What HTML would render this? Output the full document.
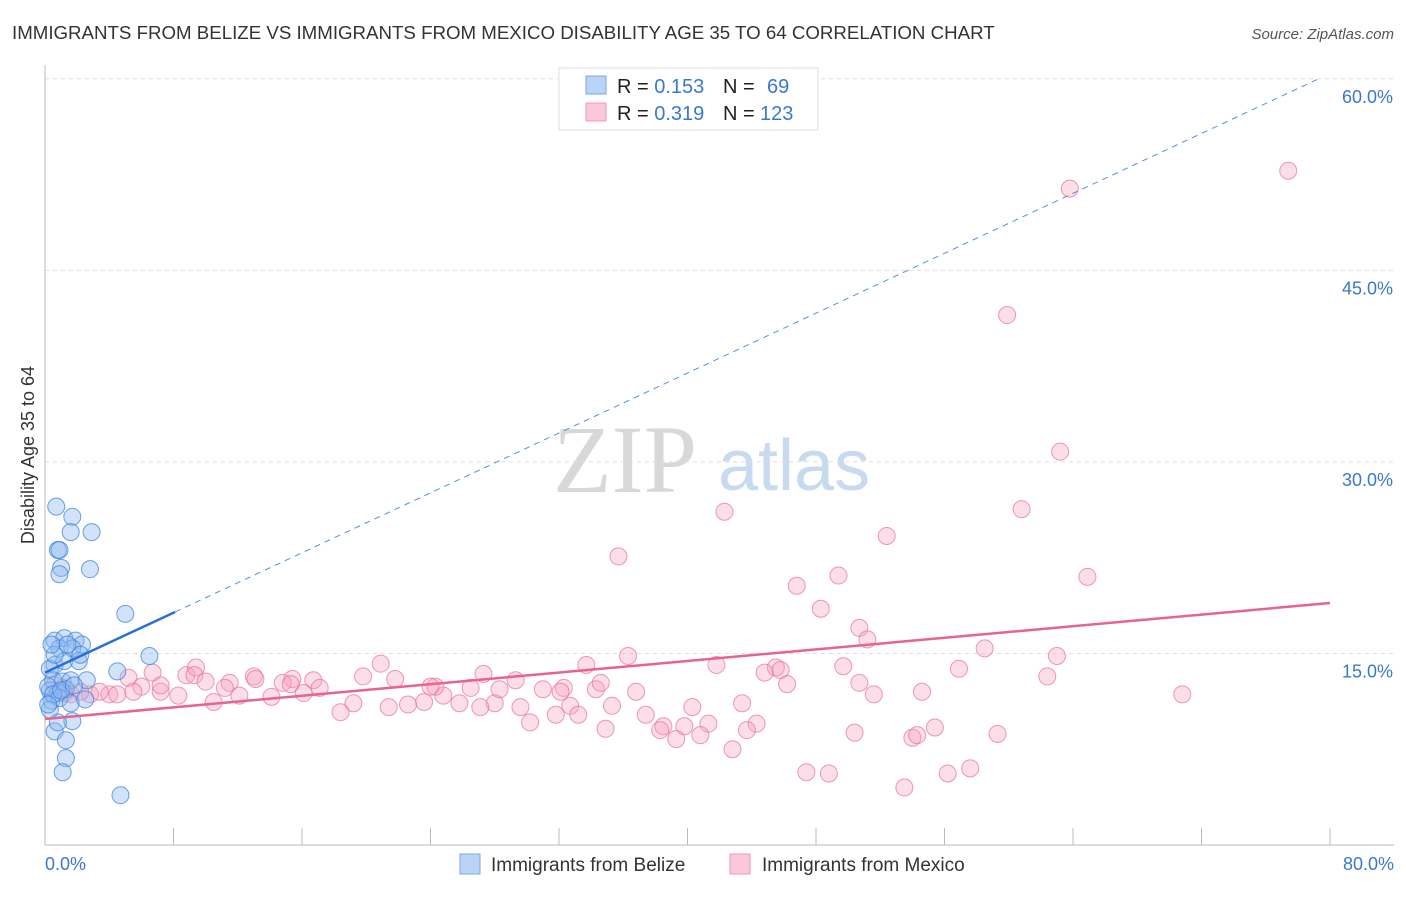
<!DOCTYPE html>
<html><head><meta charset="utf-8"><style>
body{margin:0;background:#fff;font-family:"Liberation Sans",sans-serif}
</style></head><body>
<svg id="c" width="1406" height="892" font-family="Liberation Sans, sans-serif">
<text x="12" y="39" font-size="18.7" fill="#333">IMMIGRANTS FROM BELIZE VS IMMIGRANTS FROM MEXICO DISABILITY AGE 35 TO 64 CORRELATION CHART</text>
<text x="1394" y="39" font-size="15" fill="#555" font-style="italic" text-anchor="end">Source: ZipAtlas.com</text>
<text x="34" y="455" font-size="18" fill="#333" text-anchor="middle" transform="rotate(-90 34 455)">Disability Age 35 to 64</text>
<text x="553" y="492" font-size="96" fill="#d8d8d8" style="font-family:'Liberation Serif',serif">ZIP</text>
<text x="718" y="490" font-size="72" fill="#c8daf0">atlas</text>
<g id="grid"></g><g id="pts"></g><g id="lines"></g>
<g>
<rect x="559" y="68" width="259" height="62" fill="#fff" stroke="#ddd"/>
<rect x="586" y="76" width="20" height="18" fill="#b9d4f5" stroke="#7aa8e6"/>
<rect x="586" y="103" width="20" height="18" fill="#fac8d6" stroke="#ee9ab2"/>
<text x="617" y="93" font-size="20" fill="#222">R = <tspan fill="#3a78d0">0.153</tspan><tspan x="723">N = </tspan><tspan x="767" fill="#3a78d0">69</tspan></text>
<text x="617" y="120" font-size="20" fill="#222">R = <tspan fill="#3a78d0">0.319</tspan><tspan x="723">N = </tspan><tspan x="760" fill="#3a78d0">123</tspan></text>
</g>
<g>
<rect x="460" y="854" width="20" height="20" fill="#b9d4f5" stroke="#7aa8e6"/>
<text x="491" y="871" font-size="19" fill="#333">Immigrants from Belize</text>
<rect x="730" y="854" width="20" height="20" fill="#fac8d6" stroke="#ee9ab2"/>
<text x="762" y="871" font-size="19" fill="#333">Immigrants from Mexico</text>
</g>
</svg>
<script>
const yTicks=[15,30,45,60];
const yTickLabels=["15.0%","30.0%","45.0%","60.0%"];
const xTicks=[0,8,16,24,32,40,48,56,64,72,80];
const xEndLabels=["0.0%","80.0%"];
const belizeX=[0.7,1.7,1.6,2.9,0.8,0.9,1.0,0.9,2.8,5.0,6.5,4.5,0.6,1.2,1.9,2.3,0.9,1.7,0.6,1.2,2.1,0.5,1.1,1.6,2.6,0.3,0.8,1.3,0.4,0.9,1.6,0.6,1.7,0.8,1.3,1.3,1.1,4.7,0.3,0.3,0.6,2.2,1.4,0.4,0.2,0.5,1.0,1.8,2.5,0.2];
const belizeY=[26.5,25.7,24.5,24.5,23.1,23.1,21.7,21.2,21.6,18.1,14.8,13.6,16.0,16.2,16.0,15.7,15.4,15.4,14.1,14.4,14.4,12.9,12.8,12.9,12.9,12.1,11.9,12.2,11.3,11.5,11.1,8.9,9.7,9.6,8.2,6.8,5.7,3.9,10.6,13.8,14.9,14.9,15.7,15.7,12.4,11.8,12.1,12.5,11.4,11.0];
const mexicoX=[77.4,63.8,59.9,63.2,60.8,42.3,52.4,35.7,64.9,46.8,49.4,48.3,50.7,51.2,36.3,58.5,63.0,41.8,33.7,45.5,44.8,45.8,49.7,56.9,62.4,46.2,27.3,20.9,15.4,8.8,9.4,6.7,21.8,19.8,16.7,13.0,11.5,5.2,29.3,31.0,32.3,34.3,36.8,51.6,54.6,70.8,43.4,40.3,35.3,32.7,29.6,28.0,27.1,25.8,24.8,23.6,22.6,21.4,19.2,18.4,16.1,14.1,12.1,10.5,8.3,7.2,6.0,4.0,2.8,1.6,3.4,4.5,5.5,30.2,31.8,33.2,34.9,37.4,38.5,38.3,39.8,41.3,44.3,43.7,40.8,39.3,42.8,50.4,54.0,54.3,55.4,59.3,47.4,48.8,53.5,56.2,57.6,50.7,13.1,9.3,26.5,32.1,24.3,17.1,14.8,11.2,10.0,15.3,7.2,2.2,1.1,0.6,1.2,24.0,28.3,34.6];
const mexicoY=[52.8,51.4,41.5,30.8,26.3,26.1,24.2,22.6,21.0,20.3,21.1,18.5,17.0,16.1,14.8,15.4,14.8,14.1,14.1,13.9,13.5,13.7,14.0,13.8,13.2,12.6,13.4,14.2,13.0,13.3,13.9,13.5,13.0,13.2,12.9,13.2,12.7,13.1,12.9,12.2,12.3,12.2,12.0,11.8,12.0,11.8,11.1,10.8,10.9,10.9,10.8,11.1,10.8,11.1,11.7,11.2,11.0,10.8,11.1,10.4,11.9,11.6,11.7,11.2,11.7,12.0,12.4,11.8,11.8,11.8,12.0,11.8,12.0,9.6,10.2,10.2,9.1,10.2,9.3,9.0,9.3,9.5,9.5,9.0,8.6,8.3,7.5,8.8,8.4,8.6,9.2,8.7,5.7,5.6,4.5,5.6,6.0,12.7,13.0,13.3,12.3,12.0,12.4,12.3,12.7,12.3,12.8,12.6,12.5,12.0,12.3,12.5,11.9,12.4,12.2,12.7];
const belizeTrend=[0,13.5,8.1,18.25,79.4,60.06];
const mexicoTrend=[0,9.87,80,18.95];
const X0=45,X1=1330,YB=845,PY=12.77;
function sx(v){return X0+(X1-X0)*v/80;}
function sy(v){return YB-v*PY;}
const NS="http://www.w3.org/2000/svg";
function mk(t,a,p){const e=document.createElementNS(NS,t);for(const k in a)e.setAttribute(k,a[k]);p.appendChild(e);return e;}
const grid=document.getElementById('grid');
let ax=mk('line',{x1:X0,y1:65,x2:X0,y2:YB,stroke:'#bbb'},grid);


let bx=mk('line',{x1:X0,y1:YB,x2:1394,y2:YB,stroke:'#bbb'},grid);


yTicks.forEach((v,i)=>{
 let g=mk('line',{x1:X0,y1:sy(v),x2:1394,y2:sy(v),stroke:'#ddd','stroke-dasharray':'4,4'},grid);
 
 
 let t=mk('text',{x:1393,y:sy(v)+24,'font-size':18,fill:'#3a78d0','text-anchor':'end'},grid);
 t.textContent=yTickLabels[i];
 
 
});
xTicks.forEach(v=>{
 let t=mk('line',{x1:sx(v),y1:YB,x2:sx(v),y2:YB-17,stroke:'#bbb'},grid);
 
 
});
[[0,'start',45],[80,'end',1394]].forEach((o,i)=>{
 let t=mk('text',{x:o[2],y:870,'font-size':18,fill:'#3a78d0','text-anchor':o[1]},grid);
 t.textContent=xEndLabels[i];
 
 
});
const pts=document.getElementById('pts');
mexicoX.forEach((x,i)=>{
 let c=mk('circle',{cx:sx(x),cy:sy(mexicoY[i]),r:8.5,fill:'rgba(246,160,188,0.35)',stroke:'rgba(232,110,150,0.7)','stroke-width':1},pts);
 
 
});
belizeX.forEach((x,i)=>{
 let c=mk('circle',{cx:sx(x),cy:sy(belizeY[i]),r:8.5,fill:'rgba(140,185,240,0.4)',stroke:'rgba(60,130,220,0.75)','stroke-width':1},pts);
 
 
});
const L=document.getElementById('lines');
let b1=mk('line',{x1:sx(belizeTrend[0]),y1:sy(belizeTrend[1]),x2:sx(belizeTrend[2]),y2:sy(belizeTrend[3]),stroke:'#2a6fd6','stroke-width':2.5},L);


let b2=mk('line',{x1:sx(belizeTrend[2]),y1:sy(belizeTrend[3]),x2:sx(belizeTrend[4]),y2:sy(belizeTrend[5]),stroke:'#5590e0','stroke-width':1,'stroke-dasharray':'6,5'},L);


let m1=mk('line',{x1:sx(mexicoTrend[0]),y1:sy(mexicoTrend[1]),x2:sx(mexicoTrend[2]),y2:sy(mexicoTrend[3]),stroke:'#e8638f','stroke-width':2.5},L);


</script>
</body></html>
